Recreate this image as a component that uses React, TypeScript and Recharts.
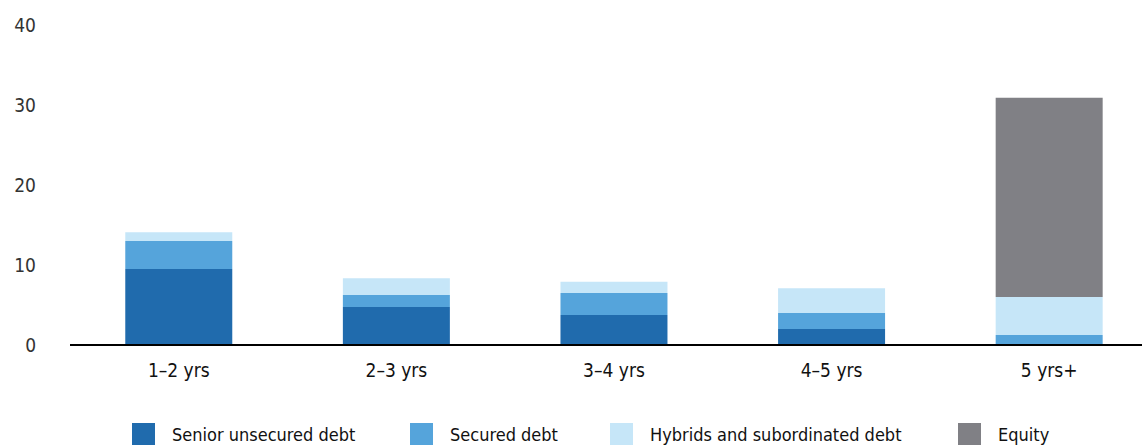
import React from "react";
import { BarChart, Bar, XAxis, YAxis } from "recharts";

const categories = ["1–2 yrs", "2–3 yrs", "3–4 yrs", "4–5 yrs", "5 yrs+"];
const seniorUnsecured = [9.5, 4.75, 3.75, 2.0, 0];
const securedDebt = [3.5, 1.5, 2.75, 2.0, 1.25];
const hybridsSubordinated = [1.1, 2.1, 1.4, 3.1, 4.75];
const equity = [0, 0, 0, 0, 24.9];
const yTicks = [0, 10, 20, 30, 40];

const seriesNames = ["Senior unsecured debt", "Secured debt", "Hybrids and subordinated debt", "Equity"];
const seriesColors = ["#206BAD", "#55A4DB", "#C6E6F8", "#808085"];

const data = categories.map((c, i) => ({
  name: c,
  senior: seniorUnsecured[i],
  secured: securedDebt[i],
  hybrids: hybridsSubordinated[i],
  equity: equity[i],
}));

const FONT = "'Liberation Sans Narrow', 'DejaVu Sans Condensed', sans-serif";

const YTick = (props: any) => {
  const { x, y, payload } = props;
  return (
    <text x={x - 26} y={y} textAnchor="end" dominantBaseline="central" fill="#333" fontSize={19} fontFamily={FONT}>
      {payload.value}
    </text>
  );
};

const XTick = (props: any) => {
  const { x, y, payload } = props;
  return (
    <text x={x} y={y + 24} textAnchor="middle" fill="#111" fontSize={19} fontFamily={FONT}>
      {payload.value}
    </text>
  );
};

const legendLefts = [132, 410, 610, 958];

export default function App() {
  return (
    <div style={{ position: "absolute", left: 0, top: 0, width: 1142, height: 445, overflow: "hidden", background: "#fff" }}>
      <BarChart
        width={1158}
        height={445}
        data={data}
        margin={{ top: 25, right: 0, bottom: 60, left: 0 }}
        barCategoryGap="25.4%"
      >
        <YAxis
          type="number"
          domain={[0, 40]}
          ticks={yTicks}
          width={70}
          axisLine={false}
          tickLine={false}
          tick={<YTick />}
          interval={0}
        />
        <XAxis
          dataKey="name"
          height={40}
          axisLine={{ stroke: "#000", strokeWidth: 2 }}
          tickLine={false}
          tick={<XTick />}
          interval={0}
        />
        <Bar dataKey="senior" stackId="a" fill={seriesColors[0]} isAnimationActive={false} />
        <Bar dataKey="secured" stackId="a" fill={seriesColors[1]} isAnimationActive={false} />
        <Bar dataKey="hybrids" stackId="a" fill={seriesColors[2]} isAnimationActive={false} />
        <Bar dataKey="equity" stackId="a" fill={seriesColors[3]} isAnimationActive={false} />
      </BarChart>
      {seriesNames.map((n, i) => (
        <div key={n} style={{ position: "absolute", left: legendLefts[i], top: 423, display: "flex", alignItems: "flex-start" }}>
          <div style={{ width: 23, height: 23, background: seriesColors[i] }} />
          <div style={{ marginLeft: 17, marginTop: 1, fontFamily: FONT, fontSize: 18, color: "#111", lineHeight: "22px", whiteSpace: "nowrap" }}>
            {n}
          </div>
        </div>
      ))}
    </div>
  );
}
